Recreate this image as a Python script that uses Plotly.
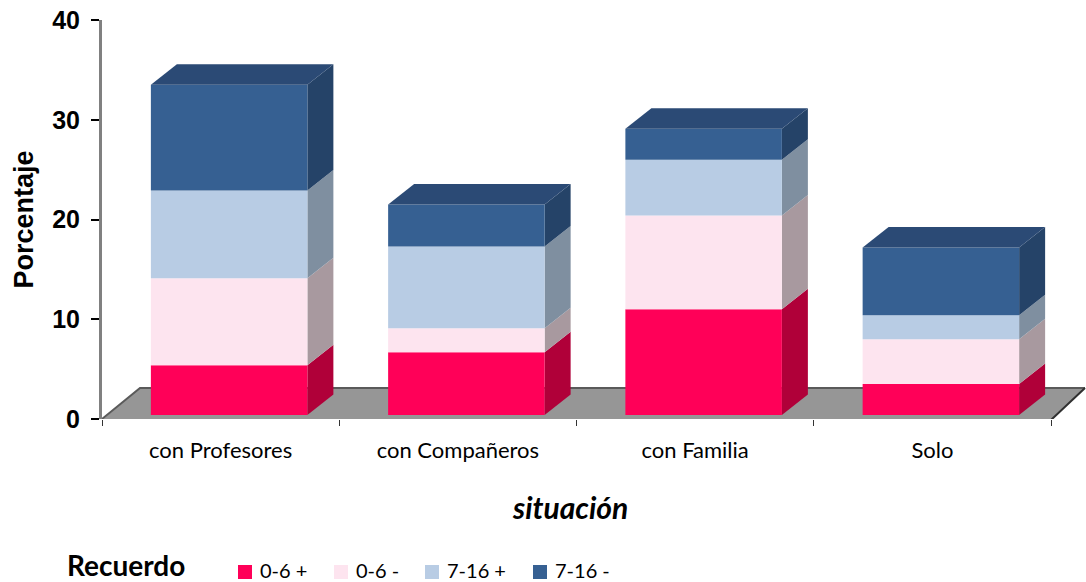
import plotly.graph_objects as go

categories = ["con Profesores", "con Compañeros", "con Familia", "Solo"]
series_names = ["0-6 +", "0-6 -", "7-16 +", "7-16 -"]
v_06_pos = [5.0, 6.3, 10.6, 3.1]
v_06_neg = [8.7, 2.4, 9.4, 4.5]
v_716_pos = [8.8, 8.2, 5.6, 2.4]
v_716_neg = [10.6, 4.2, 3.1, 6.8]
series_values = [v_06_pos, v_06_neg, v_716_pos, v_716_neg]

front_colors = ["#FF0058", "#FDE4EF", "#B8CCE4", "#366092"]
side_colors = ["#B00039", "#A8999F", "#7F8FA0", "#254368"]
top_color = "#2B4A75"

FIG_W, FIG_H = 1086, 582
AX_L, AX_T, AX_B = 102, 20, 419  # pixels of the plot area
M_L, M_T, M_B = AX_L, AX_T, FIG_H - AX_B


def px(xp):
    return (xp - AX_L) / (FIG_W - AX_L)


def py(yp):
    return (AX_B - yp) / (AX_B - AX_T)


# 3D look, expressed in axis units
CAT_PX = 237.25
VAL_PX = 9.975
bar_w = 156.5 / CAT_PX
bar_shift = 8.5 / CAT_PX
base = 4 / VAL_PX
dx = 26 / CAT_PX
dy = 20.5 / VAL_PX
floor_dx = 34 / CAT_PX
floor_dy = 31 / VAL_PX
x_lo, x_hi = -0.5, 3.5
x_max = -0.5 + (FIG_W - AX_L) / CAT_PX

fig = go.Figure()


def poly(xs, ys, color, name=None):
    fig.add_trace(go.Scatter(
        x=xs + xs[:1], y=ys + ys[:1], mode="lines", fill="toself", fillcolor=color,
        line=dict(color=color, width=0), name=name,
        hoverinfo="skip", showlegend=False, cliponaxis=False))


# floor
poly([x_lo, x_hi, x_hi + floor_dx, x_lo + 38 / CAT_PX],
     [-0.1, -0.1, floor_dy, floor_dy], "#969696")
fig.add_trace(go.Scatter(
    x=[x_lo, x_lo + 38 / CAT_PX, x_hi + floor_dx], y=[0, floor_dy, floor_dy],
    mode="lines", line=dict(color="#5A5A5A", width=2),
    hoverinfo="skip", showlegend=False, cliponaxis=False))
fig.add_trace(go.Scatter(
    x=[x_lo, x_hi, x_hi + floor_dx], y=[-0.1, -0.1, floor_dy],
    mode="lines", line=dict(color="#303030", width=2),
    hoverinfo="skip", showlegend=False, cliponaxis=False))

# bars
for i in range(len(categories)):
    x0 = i + bar_shift - bar_w / 2
    x1 = x0 + bar_w
    y0 = base
    for s, vals in enumerate(series_values):
        y1 = y0 + vals[i]
        poly([x1, x1 + dx, x1 + dx, x1], [y0, y0 + dy, y1 + dy, y1], side_colors[s])
        poly([x0, x1, x1, x0], [y0, y0, y1, y1], front_colors[s], name=series_names[s])
        y0 = y1
    poly([x0, x1, x1 + dx, x0 + dx], [y0, y0, y0 + dy, y0 + dy], top_color)

# legend key, placed by hand to match the reference's uneven spacing
swatch_left = [238, 334, 425, 533]
shapes = []
annotations = [
    dict(text="<b><i>situación</i></b>", xref="paper", yref="paper", x=px(570), y=py(507),
         xanchor="center", yanchor="middle", showarrow=False, font=dict(family="Lato", size=30)),
    dict(text="<b>Recuerdo</b>", xref="paper", yref="paper", x=px(126), y=py(565),
         xanchor="center", yanchor="middle", showarrow=False, font=dict(family="Lato", size=28)),
]
for name, color, left in zip(series_names, front_colors, swatch_left):
    shapes.append(dict(type="rect", xref="paper", yref="paper", x0=px(left), x1=px(left + 14),
                       y0=py(579), y1=py(565), fillcolor=color, line=dict(width=0)))
    annotations.append(dict(text=name, xref="paper", yref="paper", x=px(left + 20), y=py(569.5),
                            xanchor="left", yanchor="middle", showarrow=False,
                            font=dict(family="Lato", size=20)))

fig.update_layout(
    width=FIG_W, height=FIG_H, autosize=False,
    margin=dict(l=M_L, r=0, t=M_T, b=M_B),
    paper_bgcolor="white", plot_bgcolor="white",
    font=dict(family="Lato", color="black"),
    showlegend=False,
    shapes=shapes,
    annotations=annotations,
    xaxis=dict(range=[x_lo, x_max], tickmode="array", tickvals=list(range(4)),
               ticktext=categories, ticks="", showgrid=False, zeroline=False,
               showline=False, tickfont=dict(family="Lato", size=22), ticklabelstandoff=16,
               minor=dict(tickmode="array", tickvals=[-0.5, 0.5, 1.5, 2.5, 3.5], ticks="outside",
                          ticklen=6, tickwidth=1, tickcolor="#333333", showgrid=False)),
    yaxis=dict(range=[0, 40], tickmode="array", tickvals=[0, 10, 20, 30, 40],
               ticks="outside", ticklen=8, tickwidth=2, tickcolor="black",
               showgrid=False, zeroline=False, showline=True, linecolor="#808080", linewidth=3,
               tickfont=dict(family="Liberation Sans", size=25, weight="bold"),
               ticklabelstandoff=6, ticklabeloverflow="allow",
               title=dict(text="<b>Porcentaje</b>", font=dict(family="Liberation Sans", size=27),
                          standoff=11)),
)

fig.write_html("out.html", config={"displayModeBar": False},
               post_script="document.body.style.margin='0';document.documentElement.style.overflow='hidden';")
